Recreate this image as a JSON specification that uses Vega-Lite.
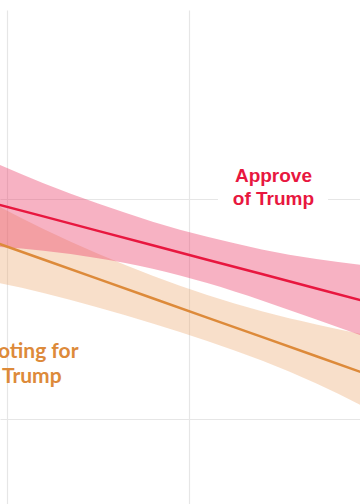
{
  "$schema": "https://vega.github.io/schema/vega-lite/v6.json",
  "width": 360,
  "height": 494,
  "autosize": {"type": "none"},
  "padding": {"top": 10, "left": 0, "right": 0, "bottom": 0},
  "config": {"view": {"stroke": null}},
  "datasets": {
    "bands": [
      {"x": 9, "series": "Approve", "mid": 49.86, "hi": 51.77, "lo": 47.85},
      {"x": 12, "series": "Approve", "mid": 49.21, "hi": 50.72, "lo": 47.65},
      {"x": 15, "series": "Approve", "mid": 48.55, "hi": 49.79, "lo": 47.31},
      {"x": 18, "series": "Approve", "mid": 47.90, "hi": 48.97, "lo": 46.83},
      {"x": 21, "series": "Approve", "mid": 47.24, "hi": 48.28, "lo": 46.18},
      {"x": 24, "series": "Approve", "mid": 46.59, "hi": 47.71, "lo": 45.39},
      {"x": 27, "series": "Approve", "mid": 45.93, "hi": 47.27, "lo": 44.52},
      {"x": 30, "series": "Approve", "mid": 45.28, "hi": 46.95, "lo": 43.64},
      {"x": 9, "series": "Voting", "mid": 48.13, "hi": 49.90, "lo": 46.27},
      {"x": 12, "series": "Voting", "mid": 47.25, "hi": 48.64, "lo": 45.73},
      {"x": 15, "series": "Voting", "mid": 46.37, "hi": 47.51, "lo": 45.07},
      {"x": 18, "series": "Voting", "mid": 45.49, "hi": 46.51, "lo": 44.34},
      {"x": 21, "series": "Voting", "mid": 44.61, "hi": 45.64, "lo": 43.55},
      {"x": 24, "series": "Voting", "mid": 43.73, "hi": 44.90, "lo": 42.66},
      {"x": 27, "series": "Voting", "mid": 42.85, "hi": 44.30, "lo": 41.61},
      {"x": 30, "series": "Voting", "mid": 41.97, "hi": 43.77, "lo": 40.39}
    ],
    "labels": [
      {"series": "Approve", "x": 24.64, "y": 50.79, "text": ["Approve", "of Trump"]},
      {"series": "Voting", "x": 11.36, "y": 42.76, "text": ["Voting for", "Trump"]}
    ],
    "mask": [
      {"x": 21.59, "x2": 27.64, "y": 49.85, "y2": 50.15}
    ]
  },
  "encoding": {
    "x": {
      "field": "x",
      "type": "quantitative",
      "scale": {"domain": [9.615, 29.396], "nice": false, "zero": false},
      "axis": {"grid": true, "values": [10, 20, 30], "labels": false, "ticks": false, "domain": false, "title": null, "gridColor": "#e6e6e6", "gridWidth": 1.2}
    },
    "y": {
      "field": "mid",
      "type": "quantitative",
      "scale": {"domain": [36.136, 58.591], "nice": false, "zero": false},
      "axis": {"grid": true, "values": [40, 50], "labels": false, "ticks": false, "domain": false, "title": null, "gridColor": "#e6e6e6", "gridWidth": 1.2}
    }
  },
  "layer": [
    {
      "data": {"name": "bands"},
      "transform": [{"filter": "datum.series === 'Voting'"}],
      "mark": {"type": "area", "clip": true, "color": "#eaa467", "opacity": 0.35, "interpolate": "monotone"},
      "encoding": {"y": {"field": "lo", "type": "quantitative"}, "y2": {"field": "hi"}}
    },
    {
      "data": {"name": "bands"},
      "transform": [{"filter": "datum.series === 'Approve'"}],
      "mark": {"type": "area", "clip": true, "color": "#ea3f6a", "opacity": 0.4, "interpolate": "monotone"},
      "encoding": {"y": {"field": "lo", "type": "quantitative"}, "y2": {"field": "hi"}}
    },
    {
      "data": {"name": "bands"},
      "transform": [{"filter": "datum.series === 'Voting'"}],
      "mark": {"type": "line", "clip": true, "color": "#dd8a3a", "strokeWidth": 2.5},
      "encoding": {}
    },
    {
      "data": {"name": "bands"},
      "transform": [{"filter": "datum.series === 'Approve'"}],
      "mark": {"type": "line", "clip": true, "color": "#e8173f", "strokeWidth": 2.5},
      "encoding": {}
    },
    {
      "data": {"name": "mask"},
      "mark": {"type": "rect", "color": "white", "opacity": 1},
      "encoding": {
        "x": {"field": "x", "type": "quantitative"},
        "x2": {"field": "x2"},
        "y": {"field": "y", "type": "quantitative"},
        "y2": {"field": "y2"}
      }
    },
    {
      "data": {"name": "labels"},
      "transform": [{"filter": "datum.series === 'Approve'"}],
      "mark": {"type": "text", "font": "Liberation Sans", "fontWeight": "bold", "fontSize": 19, "lineHeight": 23.5, "align": "center", "baseline": "alphabetic", "color": "#e8173f"},
      "encoding": {
        "y": {"field": "y", "type": "quantitative"},
        "text": {"field": "text"}
      }
    },
    {
      "data": {"name": "labels"},
      "transform": [{"filter": "datum.series === 'Voting'"}],
      "mark": {"type": "text", "font": "Lato", "fontWeight": "bold", "fontSize": 21, "lineHeight": 25, "align": "center", "baseline": "alphabetic", "color": "#dd8a3a"},
      "encoding": {
        "y": {"field": "y", "type": "quantitative"},
        "text": {"field": "text"}
      }
    }
  ]
}
